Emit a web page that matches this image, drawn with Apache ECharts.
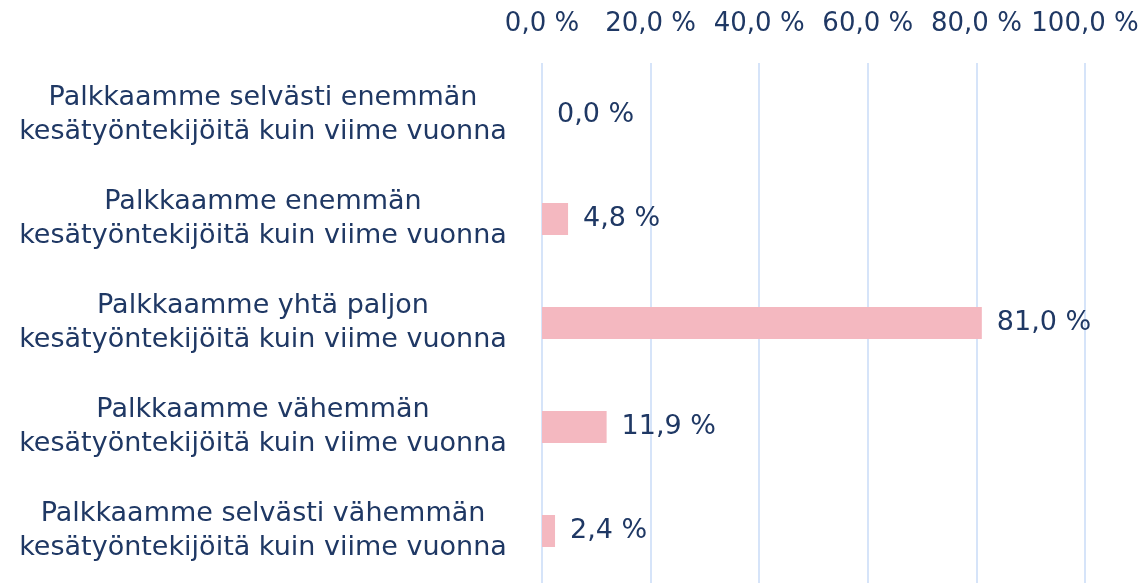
<!DOCTYPE html>
<html>
<head>
<meta charset="utf-8">
<script src="https://cdn.jsdelivr.net/npm/echarts@6/dist/echarts.min.js"></script>
<style>
  html, body { margin: 0; padding: 0; background: #fff; }
  #main { width: 1145px; height: 583px; }
</style>
</head>
<body>
<div id="main"></div>
<script>
// vastausvaihtoehdot
var categories = [
    'Palkkaamme selvästi enemmän\nkesätyöntekijöitä kuin viime vuonna',
    'Palkkaamme enemmän\nkesätyöntekijöitä kuin viime vuonna',
    'Palkkaamme yhtä paljon\nkesätyöntekijöitä kuin viime vuonna',
    'Palkkaamme vähemmän\nkesätyöntekijöitä kuin viime vuonna',
    'Palkkaamme selvästi vähemmän\nkesätyöntekijöitä kuin viime vuonna'
];
// osuudet prosentteina
var values = [0.0, 4.8, 81.0, 11.9, 2.4];
// akselin jaotus
var axisMin = 0;
var axisMax = 100;
var axisStep = 20;

var textColor = '#1f3864';
var fontName = 'DejaVu Sans';

function pct(v) {
    return v.toFixed(1).replace('.', ',') + ' %';
}

var myChart = echarts.init(document.getElementById('main'));
var option = {
    animation: false,
    grid: { left: 542, right: 60, top: 63, bottom: 0 },
    xAxis: {
        type: 'value',
        position: 'top',
        min: axisMin,
        max: axisMax,
        interval: axisStep,
        axisLine: { show: false },
        axisTick: { show: false },
        splitLine: { lineStyle: { color: '#c9dbf7', width: 1.5 } },
        axisLabel: {
            margin: 26,
            color: textColor,
            fontFamily: fontName,
            fontSize: 26,
            formatter: function (v) { return pct(v); }
        }
    },
    yAxis: {
        type: 'category',
        inverse: true,
        data: categories,
        axisLine: { show: false },
        axisTick: { show: false },
        axisLabel: {
            align: 'center',
            margin: 279,
            lineHeight: 34,
            padding: [6, 0, 0, 0],
            color: textColor,
            fontFamily: fontName,
            fontSize: 27
        }
    },
    series: [{
        type: 'bar',
        data: values,
        barWidth: 32,
        itemStyle: { color: '#f4b8c0' },
        label: {
            show: true,
            position: 'right',
            distance: 15,
            padding: [5, 0, 0, 0],
            color: textColor,
            fontFamily: fontName,
            fontSize: 27,
            formatter: function (p) { return pct(p.value); }
        }
    }]
};
myChart.setOption(option);
</script>
</body>
</html>
